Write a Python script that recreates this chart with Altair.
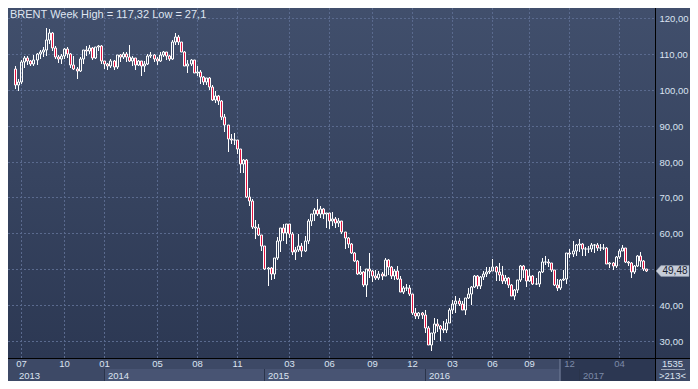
import altair as alt
import pandas as pd

TITLE = "BRENT Week High = 117,32 Low = 27,1"
FIRST_WEEK = "2013-06-17"
LAST_WEEK = "2017-06-05"
MISSING_WEEKS = ["2016-07-04", "2016-12-26"]

OPEN = [105.9, 101.2, 102.2, 107.7, 108.8, 108.1, 107.2, 108.2, 109.9, 110.6,
        111.1, 114.0, 115.7, 111.7, 109.2, 108.6, 109.5, 111.3, 109.9, 106.9,
        105.9, 105.1, 108.5, 111.0, 110.8, 111.6, 108.8, 111.8, 112.2, 107.9,
        107.3, 106.5, 107.9, 106.4, 109.6, 109.1, 110.1, 109.1, 108.1, 108.8,
        106.9, 108.1, 106.7, 107.3, 109.5, 109.6, 108.6, 107.9, 109.8, 110.5,
        109.4, 108.6, 113.4, 114.8, 113.3, 110.6, 106.7, 107.2, 108.4, 104.8,
        105.0, 103.5, 102.3, 103.2, 100.8, 97.1, 98.4, 97.0, 92.3, 90.2,
        86.2, 86.1, 85.9, 83.4, 79.4, 80.4, 70.2, 69.1, 61.9, 61.4,
        59.5, 56.4, 50.1, 50.2, 48.8, 53.0, 57.8, 61.5, 60.2, 62.6,
        59.7, 54.7, 55.3, 56.4, 55.0, 57.9, 63.5, 65.3, 66.5, 65.4,
        66.8, 65.4, 65.6, 63.3, 63.9, 63.0, 63.3, 60.3, 58.7, 57.1,
        54.6, 52.2, 48.6, 49.2, 45.5, 50.1, 49.6, 48.1, 47.5, 48.6,
        48.1, 52.7, 50.5, 48.0, 49.6, 47.4, 43.6, 44.7, 44.9, 43.0,
        37.9, 36.9, 37.9, 37.3, 33.6, 28.9, 32.2, 34.7, 34.1, 33.4,
        33.0, 35.1, 38.7, 40.4, 41.2, 40.4, 38.7, 41.9, 43.1, 45.1,
        48.1, 45.4, 47.8, 48.7, 49.3, 49.6, 50.5, 49.2, 48.4, 46.8,
        47.6, 45.7, 42.5, 44.3, 47.0, 50.9, 49.9, 46.8, 48.0, 45.8,
        45.9, 49.1, 51.9, 52.0, 51.8, 49.7, 45.6, 44.8, 46.9, 47.2,
        54.5, 54.3, 55.2, 56.8, 57.1, 55.5, 55.5, 55.5, 56.8, 56.7,
        55.8, 56.0, 55.9, 51.4, 51.8, 50.8, 53.5, 55.2, 55.9, 52.0,
        51.7, 49.1, 50.8, 53.6, 52.2, 50.0]
HIGH = [106.5, 103.0, 108.2, 109.3, 109.5, 108.4, 109.6, 110.3, 111.2, 112.0,
        117.3, 116.8, 116.0, 112.2, 109.8, 110.0, 111.6, 111.9, 110.2, 109.5,
        106.3, 109.0, 111.2, 112.2, 112.5, 111.9, 111.9, 112.4, 112.4, 108.0,
        107.4, 108.5, 108.2, 109.6, 109.9, 110.6, 110.4, 112.4, 109.3, 108.9,
        108.2, 108.1, 107.9, 110.0, 110.6, 109.9, 109.0, 110.4, 110.7, 110.6,
        109.6, 114.0, 115.7, 115.2, 113.4, 110.9, 108.4, 108.6, 108.4, 106.6,
        105.6, 103.9, 103.3, 103.7, 101.2, 99.8, 98.6, 97.2, 93.2, 90.3,
        87.6, 87.9, 86.0, 83.6, 80.8, 80.8, 72.5, 69.6, 63.8, 62.5,
        59.6, 56.5, 50.5, 50.5, 53.0, 59.1, 61.6, 62.6, 62.6, 62.6,
        60.4, 56.3, 59.7, 57.2, 59.3, 64.0, 65.4, 67.1, 69.6, 67.5,
        67.0, 65.6, 65.8, 66.0, 64.5, 64.4, 63.4, 60.4, 59.0, 57.2,
        54.7, 52.5, 50.8, 49.6, 50.1, 54.4, 49.8, 49.8, 49.5, 49.3,
        53.1, 52.8, 50.8, 50.0, 50.8, 48.1, 45.3, 46.0, 45.5, 43.1,
        39.3, 38.1, 38.0, 38.5, 34.3, 32.3, 36.3, 36.0, 34.5, 35.6,
        36.2, 39.1, 41.5, 42.5, 42.0, 41.2, 42.0, 44.7, 45.4, 48.5,
        48.3, 48.1, 49.5, 50.5, 50.5, 52.9, 51.0, 51.6, 50.8, 48.5,
        47.7, 45.8, 44.6, 47.0, 51.2, 51.2, 50.0, 50.0, 48.3, 47.6,
        49.4, 53.1, 53.7, 52.9, 51.8, 49.8, 47.2, 47.2, 49.9, 54.5,
        55.7, 57.9, 57.1, 58.4, 57.3, 56.2, 56.5, 57.3, 57.0, 57.2,
        57.0, 57.0, 56.1, 52.1, 52.1, 53.6, 55.7, 56.7, 55.9, 52.4,
        52.0, 51.2, 54.0, 54.7, 52.6, 50.1]
LOW = [100.2, 99.8, 101.5, 106.2, 107.0, 106.5, 106.7, 107.0, 108.6, 109.2,
       109.5, 112.8, 110.8, 108.5, 107.6, 107.2, 108.6, 108.9, 106.1, 105.5,
       102.9, 104.9, 107.3, 109.3, 110.0, 108.4, 108.5, 110.8, 107.3, 105.7,
       105.6, 106.1, 105.5, 105.7, 107.8, 108.6, 107.8, 107.8, 106.7, 105.5,
       106.6, 103.8, 104.9, 107.0, 108.8, 107.8, 107.0, 107.7, 109.1, 108.4,
       107.9, 108.4, 112.5, 112.5, 110.6, 106.6, 104.6, 106.6, 104.6, 103.9,
       101.6, 101.4, 101.2, 100.0, 96.9, 96.2, 95.8, 91.6, 88.1, 82.6,
       84.8, 84.6, 82.1, 76.8, 76.9, 69.8, 67.5, 61.3, 58.5, 59.2,
       55.1, 49.7, 45.2, 47.1, 47.4, 52.7, 54.8, 58.0, 57.1, 58.6,
       53.9, 52.5, 54.9, 53.5, 54.9, 57.0, 62.0, 63.5, 64.8, 64.2,
       63.9, 61.6, 61.1, 62.0, 61.5, 61.8, 59.8, 55.7, 56.0, 54.3,
       51.9, 48.3, 48.4, 45.1, 42.2, 47.6, 46.3, 46.9, 46.9, 46.9,
       48.0, 48.4, 47.4, 47.0, 47.1, 43.6, 43.2, 43.9, 42.6, 37.3,
       36.2, 36.0, 36.1, 32.2, 28.8, 27.1, 30.4, 32.4, 30.0, 32.3,
       32.1, 34.9, 37.6, 37.9, 39.7, 38.6, 37.2, 41.8, 40.1, 44.9,
       44.4, 44.6, 47.1, 47.8, 48.6, 49.5, 46.7, 46.7, 45.8, 45.9,
       44.9, 42.5, 41.5, 43.5, 46.4, 47.6, 45.1, 46.5, 45.7, 45.6,
       45.1, 48.9, 51.1, 50.6, 49.2, 45.2, 43.9, 44.2, 46.6, 45.9,
       53.1, 53.4, 53.7, 54.9, 53.6, 53.6, 54.5, 54.9, 54.6, 55.1,
       55.2, 55.3, 51.4, 50.3, 49.7, 50.2, 52.8, 55.0, 51.7, 50.9,
       47.6, 48.6, 50.6, 50.7, 49.5, 49.2]
CLOSE = [101.2, 102.2, 107.7, 108.8, 108.1, 107.2, 108.2, 109.9, 110.6, 111.1,
         114.0, 115.7, 111.7, 109.2, 108.6, 109.5, 111.3, 109.9, 106.9, 105.9,
         105.1, 108.5, 111.0, 110.8, 111.6, 108.8, 111.8, 112.2, 107.9, 107.3,
         106.5, 107.9, 106.4, 109.6, 109.1, 110.1, 109.1, 108.1, 108.8, 106.9,
         108.1, 106.7, 107.3, 109.5, 109.6, 108.6, 107.9, 109.8, 110.5, 109.4,
         108.6, 113.4, 114.8, 113.3, 110.6, 106.7, 107.2, 108.4, 104.8, 105.0,
         103.5, 102.3, 103.2, 100.8, 97.1, 98.4, 97.0, 92.3, 90.2, 86.2,
         86.1, 85.9, 83.4, 79.4, 80.4, 70.2, 69.1, 61.9, 61.4, 59.5,
         56.4, 50.1, 50.2, 48.8, 53.0, 57.8, 61.5, 60.2, 62.6, 59.7,
         54.7, 55.3, 56.4, 55.0, 57.9, 63.5, 65.3, 66.5, 65.4, 66.8,
         65.4, 65.6, 63.3, 63.9, 63.0, 63.3, 60.3, 58.7, 57.1, 54.6,
         52.2, 48.6, 49.2, 45.5, 50.1, 49.6, 48.1, 47.5, 48.6, 48.1,
         52.7, 50.5, 48.0, 49.6, 47.4, 43.6, 44.7, 44.9, 43.0, 37.9,
         36.9, 37.9, 37.3, 33.6, 28.9, 32.2, 34.7, 34.1, 33.4, 33.0,
         35.1, 38.7, 40.4, 41.2, 40.4, 38.7, 41.9, 43.1, 45.1, 48.1,
         45.4, 47.8, 48.7, 49.3, 49.6, 50.5, 49.2, 48.4, 46.8, 47.6,
         45.7, 42.5, 44.3, 47.0, 50.9, 49.9, 46.8, 48.0, 45.8, 45.9,
         49.1, 51.9, 52.0, 51.8, 49.7, 45.6, 44.8, 46.9, 47.2, 54.5,
         54.3, 55.2, 56.8, 57.1, 55.5, 55.5, 55.5, 56.8, 56.7, 55.8,
         56.0, 55.9, 51.4, 51.8, 50.8, 53.5, 55.2, 55.9, 52.0, 51.7,
         49.1, 50.8, 53.6, 52.2, 50.0, 49.48]

MONTH_TICKS = ["2013-07-01", "2013-10-07", "2014-01-06", "2014-05-05", "2014-08-04",
               "2014-11-03", "2015-03-02", "2015-06-01", "2015-09-07", "2015-12-07",
               "2016-03-07", "2016-06-06", "2016-09-05", "2016-12-05", "2017-04-03"]
MONTH_LABELS = ["07", "10", "01", "05", "08", "11", "03", "06", "09", "12",
                "03", "06", "09", "12", "04"]
YEAR_STARTS = ["2013-06-17", "2014-01-06", "2015-01-05", "2016-01-04", "2017-01-02"]
YEAR_LABELS = ["2013", "2014", "2015", "2016", "2017"]
DIM_FROM = "2016-11-14"
Y_TICKS = [30, 40, 50, 60, 70, 80, 90, 100, 110, 120]
CORNER_TOP = "1535"
CORNER_BOTTOM = ">213<"

# ---- layout / style ----
W, H = 647, 350
STRIP = 23
RIGHT = 35
RED = "#e3123f"
GRID = "#5a6a8e"
FONT = "Liberation Sans"
TXT = "#dbe3f1"
DIM = "#7d8aa8"

weeks = [d.strftime("%Y-%m-%d") for d in pd.date_range(FIRST_WEEK, LAST_WEEK, freq="7D")]
weeks = [w for w in weeks if w not in MISSING_WEEKS]
n = len(weeks)
assert n == len(OPEN) == len(HIGH) == len(LOW) == len(CLOSE)
pos = {w: k for k, w in enumerate(weeks)}

candles = pd.DataFrame({"k": list(range(n)), "open": OPEN, "high": HIGH,
                        "low": LOW, "close": CLOSE})
candles["top"] = candles[["open", "close"]].max(axis=1)
candles["bot"] = candles[["open", "close"]].min(axis=1)
candles["fillc"] = [RED if c < o else "transparent" for o, c in zip(OPEN, CLOSE)]

dim_k = pos[DIM_FROM]
months = pd.DataFrame({"k": [pos[d] for d in MONTH_TICKS], "label": MONTH_LABELS})
months["dim"] = months["k"] >= dim_k
years = pd.DataFrame({"k": [pos[d] for d in YEAR_STARTS], "label": YEAR_LABELS})
years["dim"] = years["k"] >= dim_k
bands = pd.DataFrame({"k": [pos[d] for d in YEAR_STARTS[1:4]],
                      "k2": [pos[d] for d in YEAR_STARTS[2:4]] + [dim_k]})
seps = pd.DataFrame({"k": [pos[d] for d in YEAR_STARTS[1:]]})
yticks = pd.DataFrame({"v": Y_TICKS})
last = pd.DataFrame({"v": [CLOSE[-1]], "label": [("%.2f" % CLOSE[-1]).replace(".", ",")]})
one = pd.DataFrame({"a": [1]})
dimdf = pd.DataFrame({"k": [dim_k]})

# the price tag hides the axis label that it sits on
label_ticks = [t for t in Y_TICKS if abs(t - CLOSE[-1]) > 2.5]

xs = alt.Scale(domain=[-0.63, 206.15], nice=False, zero=False, round=True)
ys = alt.Scale(domain=[25.26, 122.79], nice=False, zero=False, round=True)
yaxis = alt.Axis(orient="right", values=label_ticks, grid=False, domain=False, ticks=False,
                 tickSize=0, labelPadding=4, zindex=1, title=None,
                 labelExpr="replace(format(datum.value, '.2f'), '.', ',')",
                 labelFont=FONT, labelFontSize=9.5, labelColor=TXT)


def X(f):
    return alt.X(f, scale=xs, axis=None)


def Y(f):
    return alt.Y(f, scale=ys, axis=yaxis)


bg = alt.Chart(one).mark_rect(
    color=alt.Gradient(gradient="linear",
                       stops=[alt.GradientStop(color="#414f6c", offset=0),
                              alt.GradientStop(color="#2c3853", offset=1)],
                       x1=0, x2=0, y1=0, y2=1)
).encode(x=alt.value(0), x2=alt.value(W + RIGHT), y=alt.value(0), y2=alt.value(H))

strip = alt.Chart(one).mark_rect(color="#3d4966").encode(
    x=alt.value(0), x2=alt.value(W + RIGHT), y=alt.value(H), y2=alt.value(H + STRIP))

band_rects = alt.Chart(bands).mark_rect(color="#485473").encode(
    x=X("k:Q"), x2="k2:Q", y=alt.value(H + 11), y2=alt.value(H + STRIP))

dark = alt.Chart(dimdf).mark_rect(color="#2c3752").encode(
    x=X("k:Q"), x2=alt.value(W), y=alt.value(H + 1), y2=alt.value(H + STRIP))

dark_edge = alt.Chart(dimdf).mark_rule(color="#65718d", strokeWidth=1.5).encode(
    x=X("k:Q"), y=alt.value(H + 1), y2=alt.value(H + STRIP))

sep_rules = alt.Chart(seps).mark_rule(color="#2a344b", strokeWidth=1, xOffset=0.5).encode(
    x=X("k:Q"), y=alt.value(H + 11), y2=alt.value(H + STRIP))

vgrid = alt.Chart(months).mark_rule(color=GRID, strokeDash=[2, 2], strokeWidth=1,
                                    xOffset=0.5).encode(
    x=X("k:Q"), y=alt.value(0), y2=alt.value(H))

hgrid = alt.Chart(yticks).mark_rule(color=GRID, strokeDash=[2, 2], strokeWidth=1,
                                    yOffset=0.5).encode(
    y=Y("v:Q"), x=alt.value(0), x2=alt.value(W))

wick_up = alt.Chart(candles).mark_rule(color="white", strokeWidth=1, xOffset=0.5).encode(
    x=X("k:Q"), y=Y("high:Q"), y2="top:Q")
wick_dn = alt.Chart(candles).mark_rule(color="white", strokeWidth=1, xOffset=0.5).encode(
    x=X("k:Q"), y=Y("bot:Q"), y2="low:Q")
bodies = alt.Chart(candles).mark_bar(size=2, stroke="white", strokeWidth=1,
                                     xOffset=0.5).encode(
    x=X("k:Q"), y=Y("open:Q"), y2="close:Q", fill=alt.Fill("fillc:N", scale=None))

black_v = alt.Chart(one).mark_rule(color="black", strokeWidth=1).encode(
    x=alt.value(W + 0.5), y=alt.value(0), y2=alt.value(H + STRIP))
black_h = alt.Chart(one).mark_rule(color="black", strokeWidth=1).encode(
    y=alt.value(H + 0.5), x=alt.value(0), x2=alt.value(W + RIGHT))

month_text = alt.Chart(months).mark_text(font=FONT, fontSize=9.5, align="center",
                                         baseline="middle", xOffset=0.5).encode(
    x=X("k:Q"), y=alt.value(H + 6), text="label:N",
    color=alt.Color("dim:N", scale=alt.Scale(domain=[False, True], range=[TXT, DIM]),
                    legend=None))

year_text = alt.Chart(years).mark_text(font=FONT, fontSize=9.5, align="left",
                                       baseline="middle", dx=4).encode(
    x=X("k:Q"), y=alt.value(H + 17.5), text="label:N",
    color=alt.Color("dim:N", scale=alt.Scale(domain=[False, True], range=[TXT, DIM]),
                    legend=None))

tag = alt.Chart(last).mark_point(
    shape="M -1 0 L -0.7 -0.33 L 1 -0.33 L 1 0.33 L -0.7 0.33 Z",
    size=33 * 33, filled=True, opacity=1, color="#c5ccd8", stroke="#8e98aa",
    strokeWidth=0.5).encode(x=alt.value(W + 17.5), y=Y("v:Q"))
tag_text = alt.Chart(last).mark_text(font=FONT, fontSize=10, align="center",
                                     baseline="middle", color="#18202f").encode(
    x=alt.value(W + 20), y=Y("v:Q"), text="label:N")

corner1 = alt.Chart(one).mark_text(font=FONT, fontSize=9.5, align="center",
                                   baseline="middle", color=TXT, text=CORNER_TOP).encode(
    x=alt.value(W + 17.5), y=alt.value(H + 6))
corner2 = alt.Chart(one).mark_text(font=FONT, fontSize=9.5, align="center",
                                   baseline="middle", color=TXT, text=CORNER_BOTTOM).encode(
    x=alt.value(W + 17.5), y=alt.value(H + 17.5))
corner_line = alt.Chart(one).mark_rule(color="#9ca6b8", strokeWidth=1).encode(
    y=alt.value(H + 11.5), x=alt.value(W + 6), x2=alt.value(W + 30))

title = alt.Chart(one).mark_text(font=FONT, fontSize=11, align="left", baseline="top",
                                 color="#dfe5f1", text=TITLE).encode(
    x=alt.value(2), y=alt.value(1))

chart = alt.layer(
    bg, strip, band_rects, dark, dark_edge, sep_rules, vgrid, hgrid,
    wick_up, wick_dn, bodies, black_v, black_h, month_text, year_text,
    tag, tag_text, corner1, corner2, corner_line, title
).properties(
    width=W, height=H,
    autosize=alt.AutoSizeParams(type="none"),
    padding={"left": 0, "top": 0, "right": RIGHT, "bottom": STRIP},
).configure(background="#34405c").configure_view(strokeWidth=0)

chart.save("out.html", embed_options={"renderer": "svg", "actions": False})
